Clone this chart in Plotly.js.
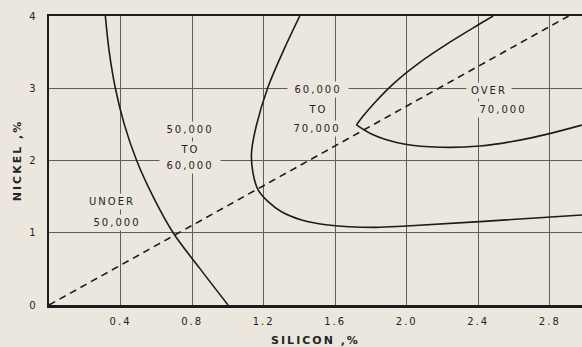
<!DOCTYPE html>
<html>
<head>
<meta charset="utf-8">
<script src="https://cdn.plot.ly/plotly-3.0.1.min.js"></script>
<style>
html,body{margin:0;padding:0;background:#ebe7de;}
#chart{width:582px;height:347px;}
</style>
</head>
<body>
<div id="chart"></div>
<script>
// ---- data ----
const xTicks = [0.4, 0.8, 1.2, 1.6, 2.0, 2.4, 2.8];
const xTickText = ["0.4", "0.8", "1.2", "1.6", "2.0", "2.4", "2.8"];
const yTicks = [0, 1, 2, 3, 4];
const yTickText = ["0", "1", "2", "3", "4"];

// boundary: under 50,000 / 50,000-60,000
const b50_x = [0.315, 0.337, 0.371, 0.421, 0.490, 0.582, 0.694, 0.845, 1.001];
const b50_y = [4.0, 3.5, 3.0, 2.5, 2.0, 1.5, 1.0, 0.5, 0.0];

// boundary: 50,000-60,000 / 60,000-70,000
const b60_x = [1.402, 1.307, 1.222, 1.158, 1.132, 1.141, 1.169, 1.225, 1.30, 1.412, 1.560, 1.822, 2.0, 2.41, 2.98];
const b60_y = [4.0, 3.5, 3.0, 2.47, 2.10, 1.823, 1.592, 1.43, 1.29, 1.177, 1.107, 1.075, 1.094, 1.154, 1.246];

// boundary: 60,000-70,000 / over 70,000 (upper and lower branches meet at the nose)
const b70up_x = [2.483, 2.398, 2.246, 2.066, 1.928, 1.817, 1.753, 1.719];
const b70up_y = [4.0, 3.875, 3.645, 3.345, 3.068, 2.79, 2.606, 2.493];
const b70lo_x = [1.719, 1.812, 1.943, 2.129, 2.409, 2.689, 2.979];
const b70lo_y = [2.493, 2.355, 2.25, 2.19, 2.20, 2.31, 2.49];

// dashed reference line
const dash_x = [0, 2.905];
const dash_y = [0, 4];

// region labels
const labelText = ["UNOER", "50,000", "50,000", "TO", "60,000", "60,000", "TO", "70,000", "OVER", "70,000"];
const labelX = [0.355, 0.381, 0.787, 0.787, 0.787, 1.502, 1.502, 1.497, 2.458, 2.537];
const labelY = [1.43, 1.14, 2.432, 2.159, 1.928, 2.976, 2.709, 2.446, 2.966, 2.709];

// ---- styling ----
const BG = "#ebe7de";
const INK = "#1c1c1c";
const TXT = "#242424";
const FONT = "DejaVu Sans, sans-serif";

function curve(x, y, smooth) {
  return {
    x: x, y: y, type: "scatter", mode: "lines", hoverinfo: "skip",
    line: {color: INK, width: 1.6, shape: "spline", smoothing: smooth},
    showlegend: false
  };
}

const traces = [
  curve(b50_x, b50_y, 1.0),
  curve(b60_x, b60_y, 1.0),
  curve(b70up_x, b70up_y, 1.0),
  curve(b70lo_x, b70lo_y, 1.0),
  {
    x: dash_x, y: dash_y, type: "scatter", mode: "lines", hoverinfo: "skip",
    line: {color: INK, width: 1.6, dash: "7px,5px"}, showlegend: false
  }
];

const annotations = labelText.map((t, i) => ({
  x: labelX[i], y: labelY[i], xref: "x", yref: "y",
  text: t, showarrow: false,
  font: {family: FONT, size: 10, color: TXT},
  bgcolor: BG, borderpad: 2,
  width: t.length * 8 + 8,
  xanchor: "center", yanchor: "middle"
}));

const layout = {
  width: 582, height: 347,
  margin: {l: 49, r: 0, t: 16, b: 42, pad: 0},
  paper_bgcolor: BG, plot_bgcolor: BG,
  showlegend: false,
  font: {family: FONT, color: TXT},
  xaxis: {
    range: [0, 2.98], tickvals: xTicks, ticktext: xTickText,
    showgrid: true, gridcolor: "#5e5e5e", gridwidth: 1,
    zeroline: false, showline: true, linecolor: INK, linewidth: 2.5, mirror: true,
    ticks: "", ticklabelstandoff: 5,
    tickfont: {family: FONT, size: 10, color: TXT},
    title: {text: "SILICON ,%", font: {family: FONT, size: 11, color: TXT, weight: 600}, standoff: 11},
    fixedrange: true
  },
  yaxis: {
    range: [0, 4], tickvals: yTicks, ticktext: yTickText,
    showgrid: true, gridcolor: "#5e5e5e", gridwidth: 1,
    zeroline: false, showline: true, linecolor: INK, linewidth: 2.5, mirror: false,
    ticks: "", ticklabelstandoff: 7,
    tickfont: {family: FONT, size: 10, color: TXT},
    title: {text: "NICKEL ,%", font: {family: FONT, size: 11, color: TXT, weight: 600}, standoff: 8},
    fixedrange: true
  },
  annotations: annotations
};

Plotly.newPlot("chart", traces, layout, {staticPlot: true, displayModeBar: false}).then(() => {
  document.querySelectorAll(".annotation-text, .xtick text, .ytick text").forEach(el => {
    el.style.letterSpacing = "2px";
  });
  document.querySelectorAll(".g-xtitle text, .g-ytitle text").forEach(el => {
    el.style.letterSpacing = "2px";
  });
});
</script>
</body>
</html>
